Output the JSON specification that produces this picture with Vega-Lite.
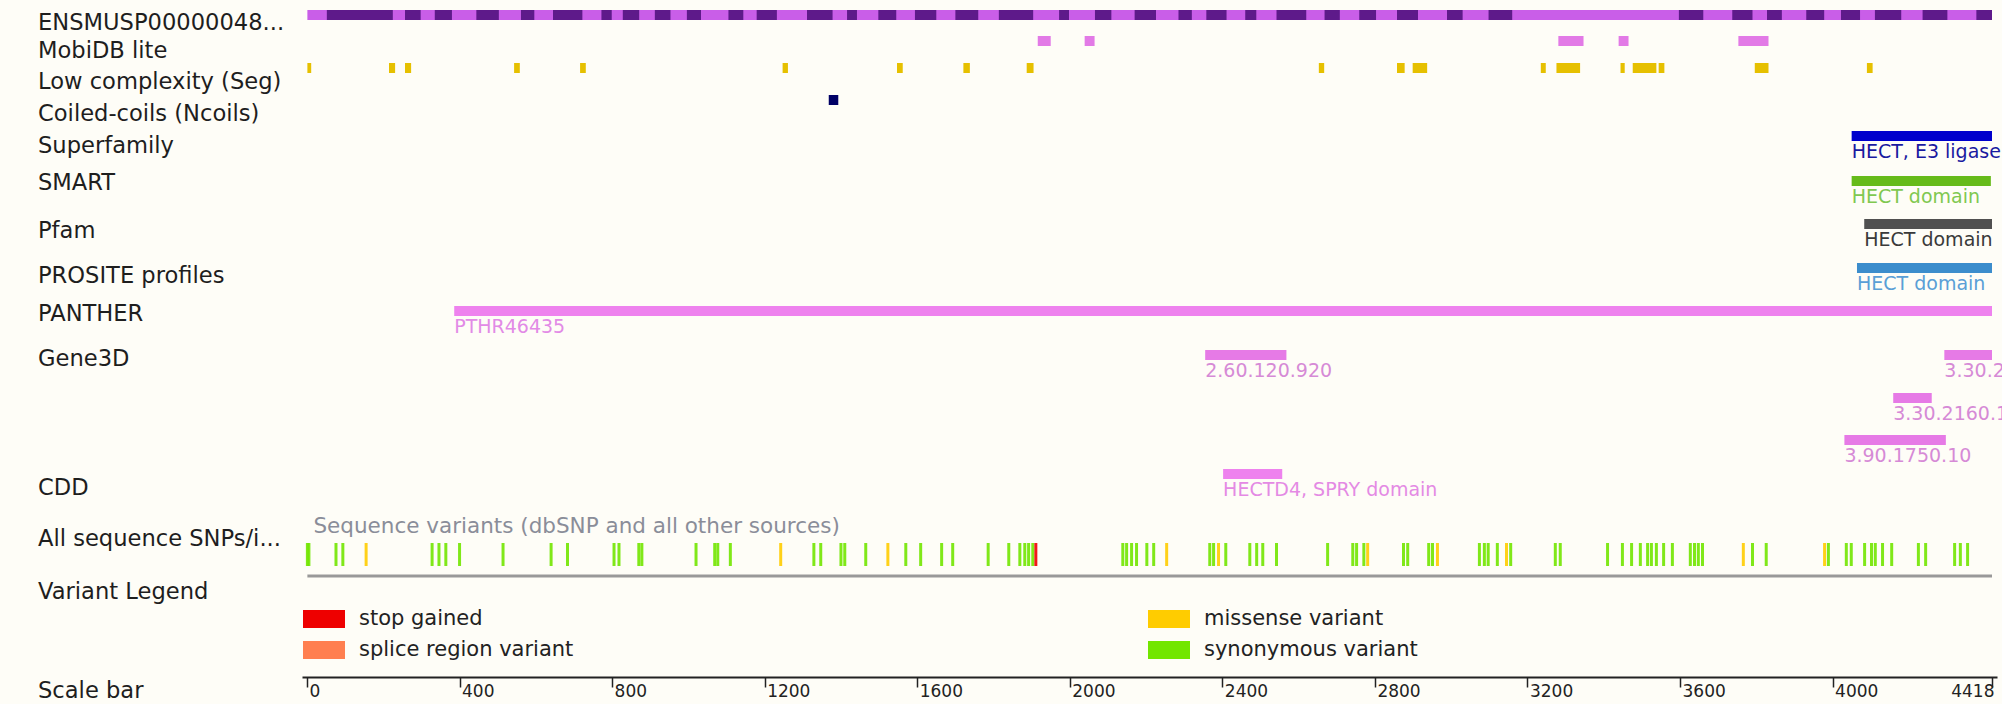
{
  "$schema": "https://vega.github.io/schema/vega-lite/v6.json",
  "width": 1695,
  "height": 677,
  "autosize": {"type": "none"},
  "padding": {"left": 302, "top": 0, "right": 5, "bottom": 27},
  "background": "#fefdf7",
  "config": {
    "view": {"stroke": null},
    "font": "DejaVu Sans",
    "axisX": {"title": null, "grid": false, "domainColor": "#222222", "domainWidth": 2, "tickColor": "#222222", "tickSize": 10, "tickWidth": 1.5,
      "labelFontSize": 17, "labelColor": "#222222", "labelFont": "DejaVu Sans", "labelBaseline": "top", "labelPadding": -4, "labelOffset": 2,
      "labelFlush": false, "labelOverlap": false}
  },
  "datasets": {
    "tracks": [
      {"name": "ENSMUSP00000048...", "lane": 1},
      {"name": "MobiDB lite", "lane": 3},
      {"name": "Low complexity (Seg)", "lane": 5},
      {"name": "Coiled-coils (Ncoils)", "lane": 7},
      {"name": "Superfamily", "lane": 9},
      {"name": "SMART", "lane": 11},
      {"name": "Pfam", "lane": 13},
      {"name": "PROSITE profiles", "lane": 15},
      {"name": "PANTHER", "lane": 17},
      {"name": "Gene3D", "lane": 19},
      {"name": "CDD", "lane": 23},
      {"name": "All sequence SNPs/i...", "lane": 25},
      {"name": "Variant Legend", "lane": 29},
      {"name": "Scale bar", "lane": 31}
    ],
    "features": [
      {"source": "exon-light", "start": 1, "end": 4418, "lane": 0},
      {"source": "exon-dark", "start": 52, "end": 225, "lane": 0},
      {"source": "exon-dark", "start": 257, "end": 298, "lane": 0},
      {"source": "exon-dark", "start": 335, "end": 380, "lane": 0},
      {"source": "exon-dark", "start": 444, "end": 503, "lane": 0},
      {"source": "exon-dark", "start": 561, "end": 596, "lane": 0},
      {"source": "exon-dark", "start": 645, "end": 722, "lane": 0},
      {"source": "exon-dark", "start": 772, "end": 799, "lane": 0},
      {"source": "exon-dark", "start": 828, "end": 871, "lane": 0},
      {"source": "exon-dark", "start": 912, "end": 953, "lane": 0},
      {"source": "exon-dark", "start": 996, "end": 1033, "lane": 0},
      {"source": "exon-dark", "start": 1105, "end": 1144, "lane": 0},
      {"source": "exon-dark", "start": 1179, "end": 1232, "lane": 0},
      {"source": "exon-dark", "start": 1311, "end": 1378, "lane": 0},
      {"source": "exon-dark", "start": 1416, "end": 1442, "lane": 0},
      {"source": "exon-dark", "start": 1498, "end": 1545, "lane": 0},
      {"source": "exon-dark", "start": 1594, "end": 1650, "lane": 0},
      {"source": "exon-dark", "start": 1700, "end": 1760, "lane": 0},
      {"source": "exon-dark", "start": 1814, "end": 1904, "lane": 0},
      {"source": "exon-dark", "start": 1972, "end": 1998, "lane": 0},
      {"source": "exon-dark", "start": 2066, "end": 2109, "lane": 0},
      {"source": "exon-dark", "start": 2170, "end": 2226, "lane": 0},
      {"source": "exon-dark", "start": 2285, "end": 2320, "lane": 0},
      {"source": "exon-dark", "start": 2358, "end": 2411, "lane": 0},
      {"source": "exon-dark", "start": 2460, "end": 2489, "lane": 0},
      {"source": "exon-dark", "start": 2542, "end": 2620, "lane": 0},
      {"source": "exon-dark", "start": 2668, "end": 2708, "lane": 0},
      {"source": "exon-dark", "start": 2759, "end": 2803, "lane": 0},
      {"source": "exon-dark", "start": 2858, "end": 2913, "lane": 0},
      {"source": "exon-dark", "start": 2989, "end": 3030, "lane": 0},
      {"source": "exon-dark", "start": 3098, "end": 3160, "lane": 0},
      {"source": "exon-dark", "start": 3597, "end": 3661, "lane": 0},
      {"source": "exon-dark", "start": 3737, "end": 3790, "lane": 0},
      {"source": "exon-dark", "start": 3828, "end": 3867, "lane": 0},
      {"source": "exon-dark", "start": 3931, "end": 3978, "lane": 0},
      {"source": "exon-dark", "start": 4022, "end": 4072, "lane": 0},
      {"source": "exon-dark", "start": 4111, "end": 4180, "lane": 0},
      {"source": "exon-dark", "start": 4236, "end": 4301, "lane": 0},
      {"source": "exon-dark", "start": 4377, "end": 4418, "lane": 0},
      {"source": "MobiDB lite", "start": 1916, "end": 1950, "lane": 2},
      {"source": "MobiDB lite", "start": 2039, "end": 2065, "lane": 2},
      {"source": "MobiDB lite", "start": 3281, "end": 3347, "lane": 2},
      {"source": "MobiDB lite", "start": 3439, "end": 3465, "lane": 2},
      {"source": "MobiDB lite", "start": 3753, "end": 3832, "lane": 2},
      {"source": "Low complexity (Seg)", "start": 1, "end": 11, "lane": 4},
      {"source": "Low complexity (Seg)", "start": 215, "end": 231, "lane": 4},
      {"source": "Low complexity (Seg)", "start": 257, "end": 273, "lane": 4},
      {"source": "Low complexity (Seg)", "start": 543, "end": 558, "lane": 4},
      {"source": "Low complexity (Seg)", "start": 716, "end": 731, "lane": 4},
      {"source": "Low complexity (Seg)", "start": 1247, "end": 1261, "lane": 4},
      {"source": "Low complexity (Seg)", "start": 1547, "end": 1562, "lane": 4},
      {"source": "Low complexity (Seg)", "start": 1721, "end": 1738, "lane": 4},
      {"source": "Low complexity (Seg)", "start": 1887, "end": 1905, "lane": 4},
      {"source": "Low complexity (Seg)", "start": 2653, "end": 2667, "lane": 4},
      {"source": "Low complexity (Seg)", "start": 2858, "end": 2878, "lane": 4},
      {"source": "Low complexity (Seg)", "start": 2899, "end": 2937, "lane": 4},
      {"source": "Low complexity (Seg)", "start": 3235, "end": 3248, "lane": 4},
      {"source": "Low complexity (Seg)", "start": 3276, "end": 3338, "lane": 4},
      {"source": "Low complexity (Seg)", "start": 3444, "end": 3455, "lane": 4},
      {"source": "Low complexity (Seg)", "start": 3476, "end": 3538, "lane": 4},
      {"source": "Low complexity (Seg)", "start": 3544, "end": 3559, "lane": 4},
      {"source": "Low complexity (Seg)", "start": 3796, "end": 3832, "lane": 4},
      {"source": "Low complexity (Seg)", "start": 4090, "end": 4105, "lane": 4},
      {"source": "Coiled-coils (Ncoils)", "start": 1368, "end": 1393, "lane": 6},
      {"source": "Superfamily", "start": 4050, "end": 4418, "lane": 8, "label": "HECT, E3 ligase catalytic domain"},
      {"source": "SMART", "start": 4050, "end": 4415, "lane": 10, "label": "HECT domain"},
      {"source": "Pfam", "start": 4083, "end": 4418, "lane": 12, "label": "HECT domain"},
      {"source": "PROSITE profiles", "start": 4064, "end": 4418, "lane": 14, "label": "HECT domain"},
      {"source": "PANTHER", "start": 386, "end": 4418, "lane": 16, "label": "PTHR46435"},
      {"source": "Gene3D", "start": 2355, "end": 2568, "lane": 18, "label": "2.60.120.920"},
      {"source": "Gene3D", "start": 4293, "end": 4418, "lane": 18, "label": "3.30.2410.10"},
      {"source": "Gene3D", "start": 4159, "end": 4260, "lane": 20, "label": "3.30.2160.10"},
      {"source": "Gene3D", "start": 4031, "end": 4297, "lane": 21, "label": "3.90.1750.10"},
      {"source": "CDD", "start": 2402, "end": 2557, "lane": 22, "label": "HECTD4, SPRY domain"}
    ],
    "variants": [
      {"pos": 1, "type": "synonymous variant"},
      {"pos": 5, "type": "synonymous variant"},
      {"pos": 76, "type": "synonymous variant"},
      {"pos": 94, "type": "synonymous variant"},
      {"pos": 155, "type": "missense variant"},
      {"pos": 328, "type": "synonymous variant"},
      {"pos": 346, "type": "synonymous variant"},
      {"pos": 364, "type": "synonymous variant"},
      {"pos": 400, "type": "synonymous variant"},
      {"pos": 514, "type": "synonymous variant"},
      {"pos": 640, "type": "synonymous variant"},
      {"pos": 683, "type": "synonymous variant"},
      {"pos": 805, "type": "synonymous variant"},
      {"pos": 818, "type": "synonymous variant"},
      {"pos": 870, "type": "synonymous variant"},
      {"pos": 878, "type": "synonymous variant"},
      {"pos": 1020, "type": "synonymous variant"},
      {"pos": 1069, "type": "synonymous variant"},
      {"pos": 1077, "type": "synonymous variant"},
      {"pos": 1110, "type": "synonymous variant"},
      {"pos": 1242, "type": "missense variant"},
      {"pos": 1329, "type": "synonymous variant"},
      {"pos": 1347, "type": "synonymous variant"},
      {"pos": 1400, "type": "synonymous variant"},
      {"pos": 1410, "type": "synonymous variant"},
      {"pos": 1465, "type": "synonymous variant"},
      {"pos": 1523, "type": "missense variant"},
      {"pos": 1570, "type": "synonymous variant"},
      {"pos": 1609, "type": "synonymous variant"},
      {"pos": 1664, "type": "synonymous variant"},
      {"pos": 1693, "type": "synonymous variant"},
      {"pos": 1786, "type": "synonymous variant"},
      {"pos": 1840, "type": "synonymous variant"},
      {"pos": 1869, "type": "synonymous variant"},
      {"pos": 1882, "type": "synonymous variant"},
      {"pos": 1892, "type": "synonymous variant"},
      {"pos": 1903, "type": "synonymous variant"},
      {"pos": 1911, "type": "stop gained"},
      {"pos": 2139, "type": "synonymous variant"},
      {"pos": 2149, "type": "synonymous variant"},
      {"pos": 2162, "type": "synonymous variant"},
      {"pos": 2175, "type": "synonymous variant"},
      {"pos": 2202, "type": "synonymous variant"},
      {"pos": 2220, "type": "synonymous variant"},
      {"pos": 2254, "type": "missense variant"},
      {"pos": 2367, "type": "synonymous variant"},
      {"pos": 2377, "type": "synonymous variant"},
      {"pos": 2390, "type": "missense variant"},
      {"pos": 2409, "type": "synonymous variant"},
      {"pos": 2472, "type": "synonymous variant"},
      {"pos": 2490, "type": "synonymous variant"},
      {"pos": 2506, "type": "synonymous variant"},
      {"pos": 2542, "type": "synonymous variant"},
      {"pos": 2676, "type": "synonymous variant"},
      {"pos": 2742, "type": "synonymous variant"},
      {"pos": 2752, "type": "synonymous variant"},
      {"pos": 2771, "type": "synonymous variant"},
      {"pos": 2781, "type": "missense variant"},
      {"pos": 2875, "type": "synonymous variant"},
      {"pos": 2886, "type": "synonymous variant"},
      {"pos": 2941, "type": "synonymous variant"},
      {"pos": 2951, "type": "synonymous variant"},
      {"pos": 2964, "type": "missense variant"},
      {"pos": 3074, "type": "synonymous variant"},
      {"pos": 3087, "type": "synonymous variant"},
      {"pos": 3097, "type": "synonymous variant"},
      {"pos": 3121, "type": "synonymous variant"},
      {"pos": 3145, "type": "missense variant"},
      {"pos": 3156, "type": "synonymous variant"},
      {"pos": 3273, "type": "synonymous variant"},
      {"pos": 3286, "type": "synonymous variant"},
      {"pos": 3410, "type": "synonymous variant"},
      {"pos": 3449, "type": "synonymous variant"},
      {"pos": 3473, "type": "synonymous variant"},
      {"pos": 3496, "type": "synonymous variant"},
      {"pos": 3515, "type": "synonymous variant"},
      {"pos": 3525, "type": "synonymous variant"},
      {"pos": 3538, "type": "synonymous variant"},
      {"pos": 3557, "type": "synonymous variant"},
      {"pos": 3580, "type": "synonymous variant"},
      {"pos": 3627, "type": "synonymous variant"},
      {"pos": 3638, "type": "synonymous variant"},
      {"pos": 3648, "type": "synonymous variant"},
      {"pos": 3659, "type": "synonymous variant"},
      {"pos": 3766, "type": "missense variant"},
      {"pos": 3790, "type": "synonymous variant"},
      {"pos": 3826, "type": "synonymous variant"},
      {"pos": 3979, "type": "missense variant"},
      {"pos": 3989, "type": "synonymous variant"},
      {"pos": 4036, "type": "synonymous variant"},
      {"pos": 4049, "type": "synonymous variant"},
      {"pos": 4084, "type": "synonymous variant"},
      {"pos": 4102, "type": "synonymous variant"},
      {"pos": 4112, "type": "synonymous variant"},
      {"pos": 4131, "type": "synonymous variant"},
      {"pos": 4155, "type": "synonymous variant"},
      {"pos": 4225, "type": "synonymous variant"},
      {"pos": 4244, "type": "synonymous variant"},
      {"pos": 4320, "type": "synonymous variant"},
      {"pos": 4335, "type": "synonymous variant"},
      {"pos": 4354, "type": "synonymous variant"}
    ]
  },
  "encoding": {
    "x": {"type": "quantitative", "scale": {"domain": [0, 4418], "nice": false, "zero": false},
      "axis": {"values": [0, 400, 800, 1200, 1600, 2000, 2400, 2800, 3200, 3600, 4000, 4418], "format": "d", "title": null,
        "labelAlign": {"condition": {"test": "datum.value == 4418", "value": "right"}, "value": "left"}}},
    "y": {"type": "quantitative", "axis": null,
      "scale": {"domain": [0,1,2,3,4,5,6,7,8,9,10,11,12,13,14,15,16,17,18,19,20,21,22,23,24,25,26,27,28,29,30,31],
                "range": [15,23,41,51,68,82,100,114,136,146,181,183,224,231,268,276,311,314,355,359,398,440,474,488,527,539,543,566,576,592,677,691],
                "nice": false, "zero": false}}
  },
  "layer": [
    {
      "data": {"name": "features"},
      "mark": {"type": "rule", "strokeWidth": 10, "strokeCap": "butt"},
      "encoding": {
        "x": {"field": "start"},
        "x2": {"field": "end"},
        "y": {"field": "lane"},
        "stroke": {"field": "source", "type": "nominal", "legend": null,
          "scale": {"domain": ["exon-light","exon-dark","MobiDB lite","Low complexity (Seg)","Coiled-coils (Ncoils)","Superfamily","SMART","Pfam","PROSITE profiles","PANTHER","Gene3D","CDD"],
                    "range": ["#c95ee8","#5e1a8a","#e27ae6","#e6c000","#000066","#0000cc","#66bb1a","#505050","#3c8dcc","#ee82ee","#e67ae6","#ee82ee"]}}
      }
    },
    {
      "data": {"name": "features"},
      "transform": [{"filter": "datum.label != null"}],
      "mark": {"type": "text", "align": "left", "baseline": "middle", "dy": 16, "fontSize": 19},
      "encoding": {
        "x": {"field": "start"},
        "y": {"field": "lane"},
        "text": {"field": "label"},
        "fill": {"field": "source", "type": "nominal", "legend": null,
          "scale": {"domain": ["Superfamily","SMART","Pfam","PROSITE profiles","PANTHER","Gene3D","CDD"],
                    "range": ["#1a1aa0","#80c850","#3a3a3a","#5a9fd6","#e28ae6","#d68ad6","#e48ae4"]}}
      }
    },
    {
      "data": {"values": [{"start": 1, "end": 4418}]},
      "mark": {"type": "rule", "stroke": "#999999", "strokeWidth": 3},
      "encoding": {
        "x": {"field": "start"},
        "x2": {"field": "end"},
        "y": {"datum": 28}
      }
    },
    {
      "data": {"values": [{"start": 1, "label": "Sequence variants (dbSNP and all other sources)"}]},
      "mark": {"type": "text", "align": "left", "baseline": "middle", "dx": 6, "fontSize": 21.5, "fill": "#8a8d99"},
      "encoding": {
        "x": {"field": "start"},
        "y": {"datum": 24},
        "text": {"field": "label"}
      }
    },
    {
      "data": {"name": "variants"},
      "mark": {"type": "bar", "size": 3, "opacity": 0.9},
      "encoding": {
        "x": {"field": "pos"},
        "y": {"datum": 26},
        "y2": {"datum": 27},
        "color": {"field": "type", "type": "nominal",
          "scale": {"domain": ["stop gained", "splice region variant", "missense variant", "synonymous variant"],
                    "range": ["#ee0000", "#ff7f50", "#ffcc00", "#72e600"]},
          "legend": {"orient": "none", "legendX": 1, "legendY": 598, "columns": 2, "title": null,
            "symbolType": "M-1,-0.43H1V0.43H-1Z", "symbolSize": 1764, "symbolStrokeWidth": 0, "symbolOpacity": 1,
            "labelFontSize": 21, "labelColor": "#222222", "labelFont": "DejaVu Sans", "labelOffset": 14, "labelLimit": 500,
            "columnPadding": 574, "rowPadding": -3}}
      }
    },
    {
      "data": {"name": "tracks"},
      "mark": {"type": "text", "align": "left", "baseline": "middle", "dx": -269, "fontSize": 22.6, "fill": "#1e1e1e"},
      "encoding": {
        "x": {"datum": 0},
        "y": {"field": "lane"},
        "text": {"field": "name"}
      }
    }
  ]
}
